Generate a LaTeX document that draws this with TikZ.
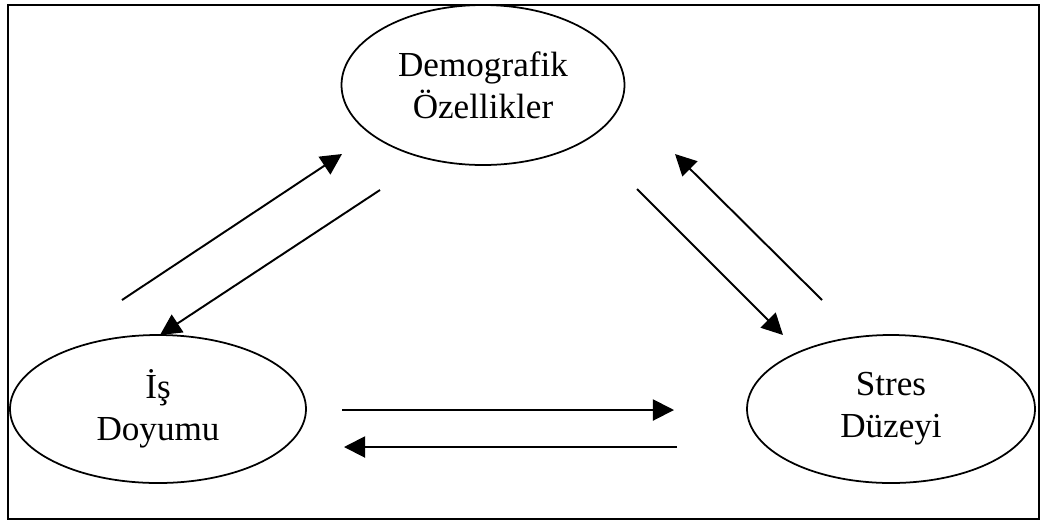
\documentclass[tikz,border=0pt]{standalone}
\usepackage{fontspec}
\setmainfont{Liberation Serif}
\usetikzlibrary{arrows.meta,shapes.geometric}

\tikzset{
  oval/.style={draw, ellipse, line width=1pt, inner sep=0pt, align=center,
    font=\fontsize{20}{24}\selectfont},
  link/.style={line width=1.1pt, -{Triangle[length=12pt,width=12pt]}}
}

\begin{document}
\begin{tikzpicture}[x=0.02cm,y=-0.02cm]
\useasboundingbox (0,0) rectangle (1041,522);
% Frame
\draw[line width=1.6pt] (8,5) rectangle (1039,519);

% Ovals
\node[oval, minimum width=283*0.02cm, minimum height=160*0.02cm] (demo) at (483,85) {Demografik\\Özellikler};
\node[oval, minimum width=296*0.02cm, minimum height=148*0.02cm] (is) at (158,409) {İş\\Doyumu};
\node[oval, minimum width=288*0.02cm, minimum height=148*0.02cm] (stres) at (891,409) {Stres\\Düzeyi};

% Arrow ends
\coordinate (a1) at (122,300); \coordinate (b1) at (342,154);
\coordinate (a2) at (380,190); \coordinate (b2) at (160,335);
\coordinate (a3) at (637,189); \coordinate (b3) at (783,335);
\coordinate (a4) at (822,300); \coordinate (b4) at (675,154);
\coordinate (a5) at (342,410); \coordinate (b5) at (674,410);
\coordinate (a6) at (677,447); \coordinate (b6) at (344,447);

\draw[link] (a1) -- (b1);
\draw[link] (a2) -- (b2);
\draw[link] (a3) -- (b3);
\draw[link] (a4) -- (b4);
\draw[link] (a5) -- (b5);
\draw[link] (a6) -- (b6);

\end{tikzpicture}
\end{document}
